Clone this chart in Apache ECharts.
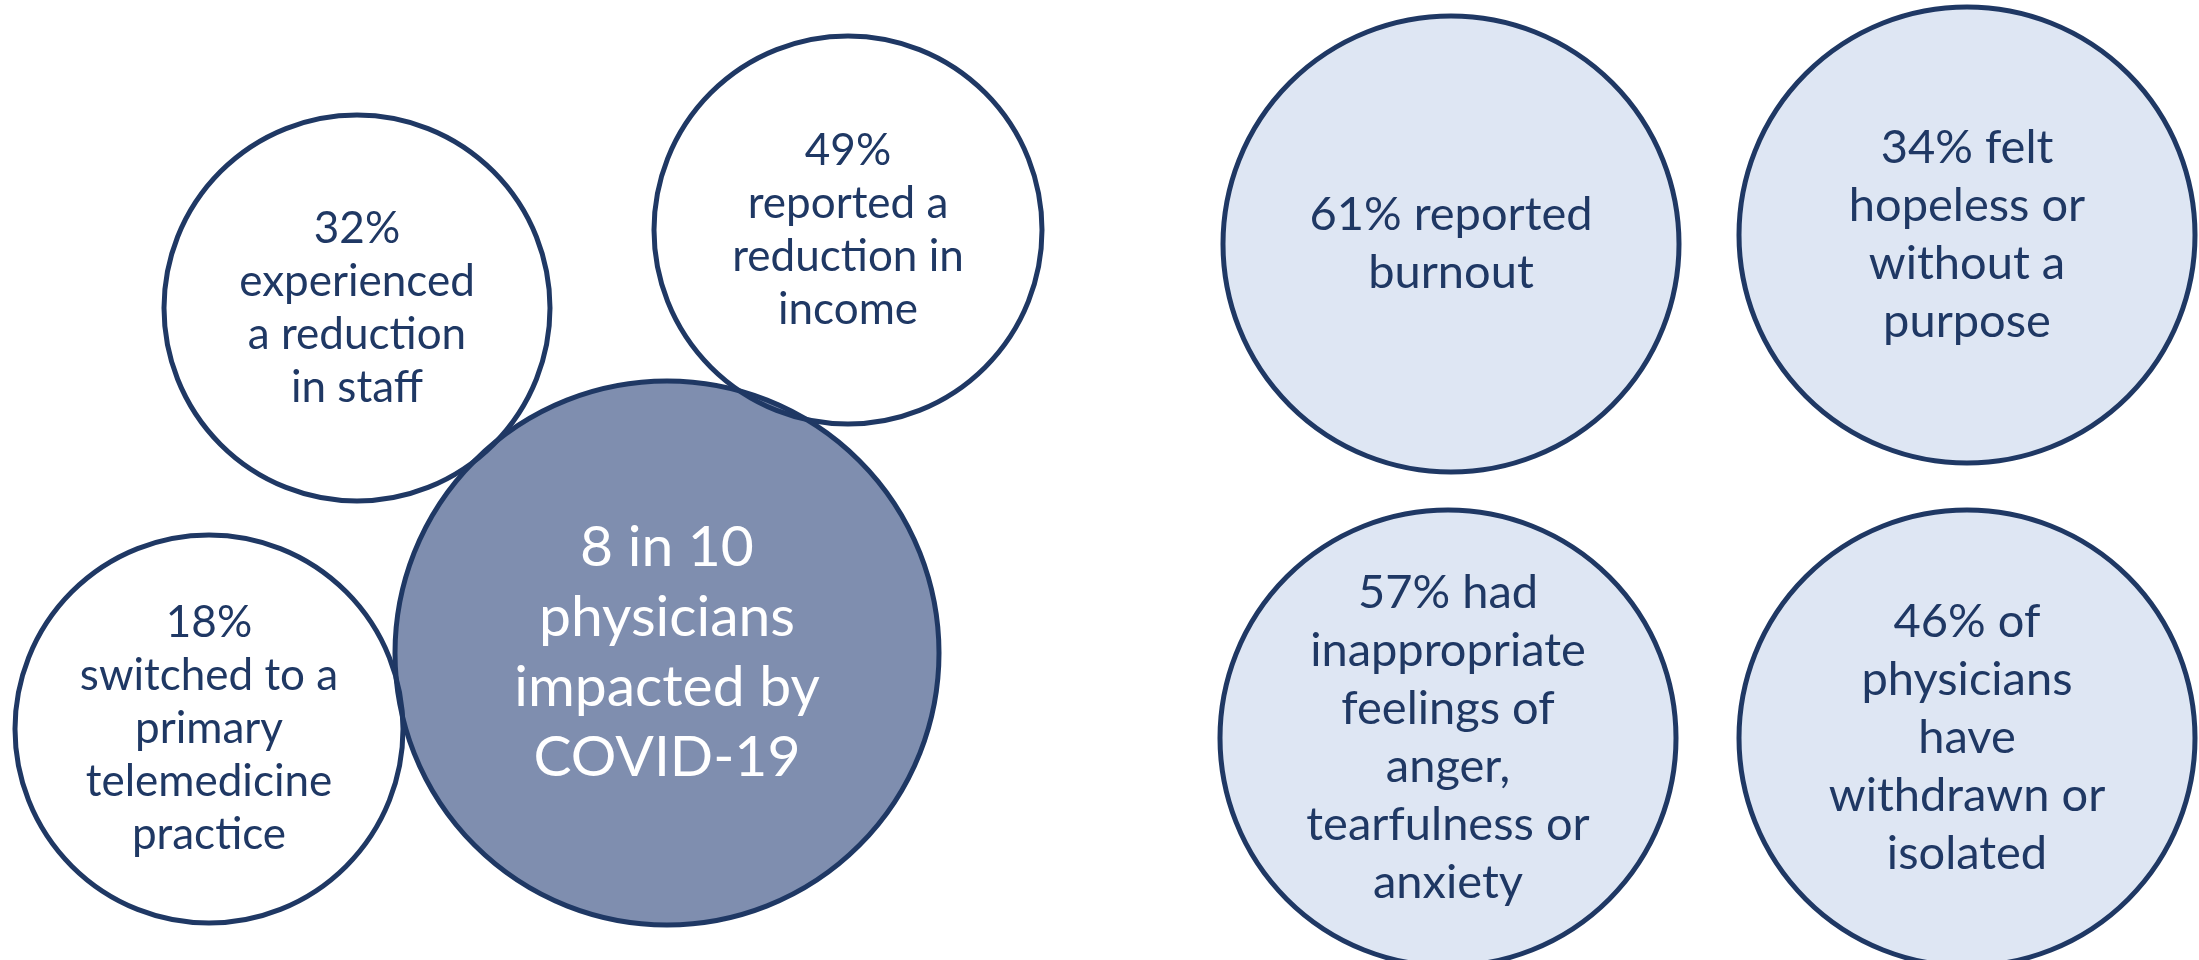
<!DOCTYPE html>
<html>
<head>
<meta charset="utf-8">
<script src="https://cdn.jsdelivr.net/npm/echarts@6/dist/echarts.min.js"></script>
<style>
html,body{margin:0;padding:0;background:#fff;}
#chart{width:2199px;height:960px;}
</style>
</head>
<body>
<div id="chart"></div>
<script>
// Bubble labels
const labels = [
  "8 in 10\nphysicians\nimpacted by\nCOVID-19",
  "32%\nexperienced\na reduction\nin staff",
  "49%\nreported a\nreduction in\nincome",
  "18%\nswitched to a\nprimary\ntelemedicine\npractice",
  "61% reported\nburnout",
  "34% felt\nhopeless or\nwithout a\npurpose",
  "57% had\ninappropriate\nfeelings of\nanger,\ntearfulness or\nanxiety",
  "46% of\nphysicians\nhave\nwithdrawn or\nisolated"
];
// Bubble centres (chart units) and radii
const centerX = [667, 357, 848, 209, 1451, 1967, 1448, 1967];
const centerY = [653, 308, 230, 729, 244, 235, 738, 738];
const radius  = [272, 193, 194, 194, 228, 228, 228, 228];
const kind    = ["main", "outline", "outline", "outline", "light", "light", "light", "light"];

const styles = {
  main:    { fill: "#7f8eaf", text: "#ffffff", size: 57, lh: 70 },
  outline: { fill: "rgba(255,255,255,0)", text: "#1f3864", size: 44, lh: 53 },
  light:   { fill: "#dee6f3", text: "#1f3864", size: 47, lh: 58 }
};

const data = labels.map((t, i) => {
  const s = styles[kind[i]];
  return {
    name: t,
    value: [centerX[i], centerY[i], radius[i]],
    itemStyle: { color: s.fill, borderColor: "#1f3864", borderWidth: 5, opacity: 1 },
    label: { color: s.text, fontSize: s.size, lineHeight: s.lh }
  };
});

const chart = echarts.init(document.getElementById("chart"), null, { renderer: "canvas" });
chart.setOption({
  animation: false,
  backgroundColor: "#ffffff",
  grid: { left: 0, right: 0, top: 0, bottom: 0 },
  xAxis: { type: "value", min: 0, max: 2199, show: false },
  yAxis: { type: "value", min: 0, max: 960, inverse: true, show: false },
  series: [{
    type: "scatter",
    symbol: "circle",
    symbolSize: (v) => v[2] * 2,
    data: data,
    itemStyle: { opacity: 1 },
    label: {
      show: true,
      position: "inside",
      formatter: (p) => p.name,
      fontFamily: "Lato, 'Open Sans', sans-serif",
      align: "center",
      verticalAlign: "middle"
    },
    emphasis: { disabled: true }
  }]
});
</script>
</body>
</html>
